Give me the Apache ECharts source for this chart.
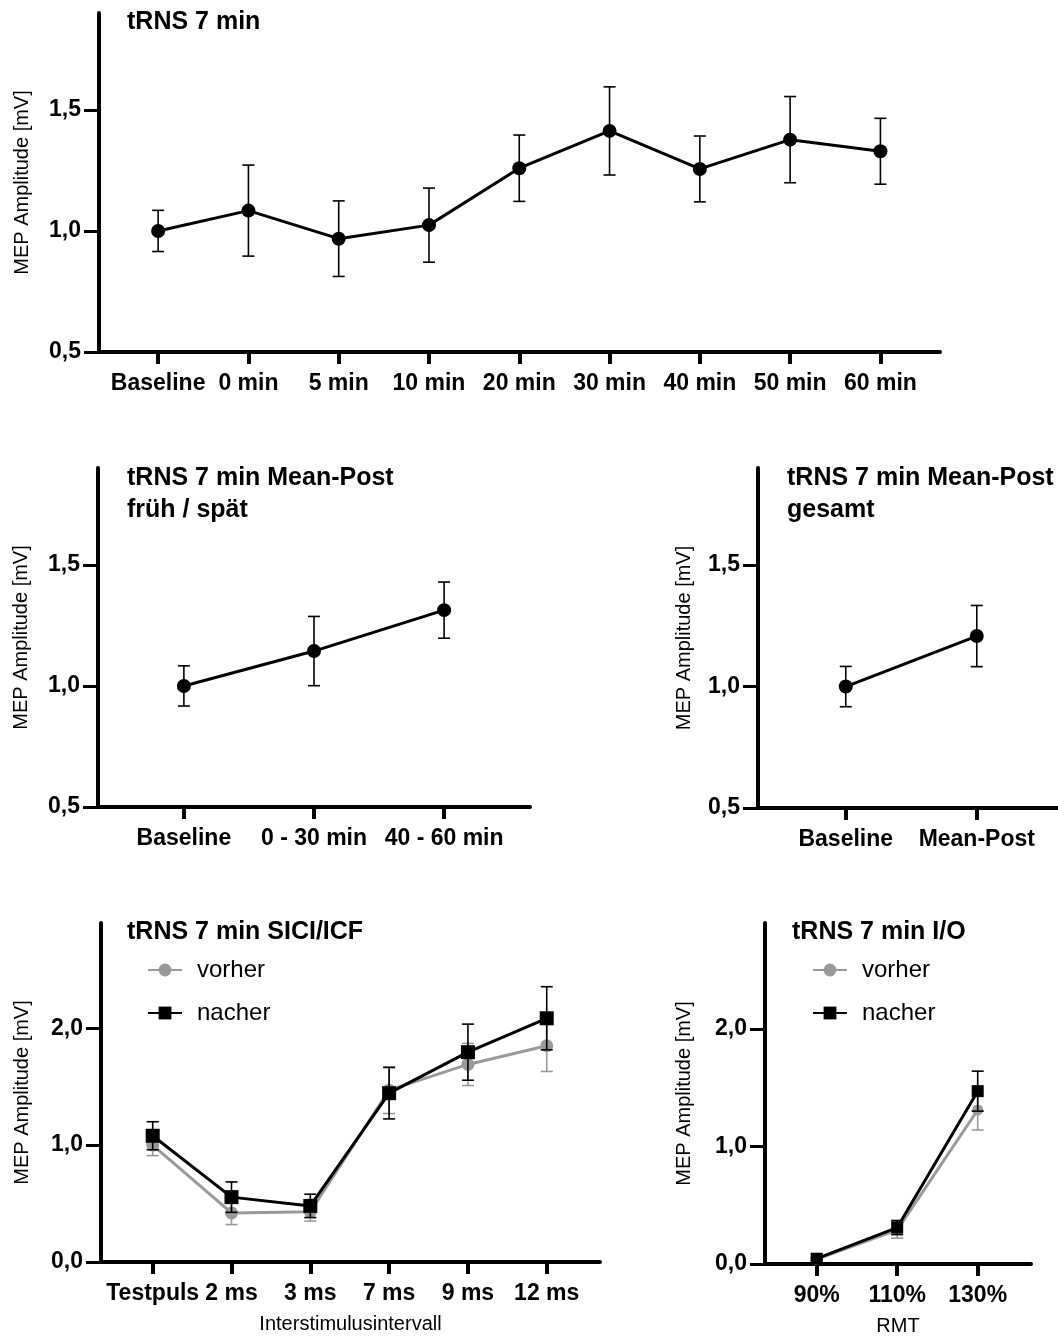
<!DOCTYPE html>
<html><head><meta charset="utf-8">
<script src="https://cdn.jsdelivr.net/npm/echarts@6/dist/echarts.min.js"></script>
<style>html,body{margin:0;padding:0;background:#fff}#c{width:1058px;height:1338px}</style>
</head><body><div id="c"></div>
<script>
// ---- data ----
const p1Cats = ['Baseline','0 min','5 min','10 min','20 min','30 min','40 min','50 min','60 min'];
const p1Mean = [1.00, 1.084, 0.968, 1.024, 1.259, 1.413, 1.256, 1.377, 1.329];
const p1Sem  = [0.085, 0.188, 0.156, 0.153, 0.137, 0.182, 0.136, 0.178, 0.136];

const p2Cats = ['Baseline','0 - 30 min','40 - 60 min'];
const p2Mean = [1.00, 1.144, 1.313];
const p2Sem  = [0.083, 0.143, 0.116];

const p3Cats = ['Baseline','Mean-Post'];
const p3Mean = [1.00, 1.208];
const p3Sem  = [0.083, 0.126];

const p4Cats = ['Testpuls','2 ms','3 ms','7 ms','9 ms','12 ms'];
const p4Vor     = [1.00, 0.42, 0.43, 1.47, 1.69, 1.85];
const p4VorSem  = [0.09, 0.10, 0.08, 0.20, 0.18, 0.22];
const p4Nach    = [1.08, 0.555, 0.48, 1.444, 1.795, 2.085];
const p4NachSem = [0.12, 0.13, 0.10, 0.22, 0.24, 0.27];

const p5Cats = ['90%','110%','130%'];
const p5Vor     = [0.04, 0.29, 1.31];
const p5VorSem  = [0.01, 0.07, 0.17];
const p5Nach    = [0.045, 0.31, 1.47];
const p5NachSem = [0.01, 0.06, 0.17];

const ticksA = [0.5, 1.0, 1.5];
const ticksB = [0, 1, 2];

const titles = ['tRNS 7 min', 'tRNS 7 min Mean-Post\nfrüh / spät', 'tRNS 7 min Mean-Post\ngesamt', 'tRNS 7 min SICI/ICF', 'tRNS 7 min I/O'];
const yName = 'MEP Amplitude [mV]';
const seriesNames = ['vorher', 'nacher'];

// ---- helpers ----
const FONT = '"Liberation Sans", Arial, Helvetica, sans-serif';
const GRAY = '#999999';
const fmt = v => v.toFixed(1).replace('.', ',');
const pts = arr => arr.map((v, i) => [i, v]);
const errs = (m, s) => m.map((v, i) => [i, v - s[i], v + s[i]]);

function errRender(color, capHalf, lw) {
  return function (params, api) {
    const x = api.value(0), lo = api.value(1), hi = api.value(2);
    const a = api.coord([x, lo]), b = api.coord([x, hi]);
    const st = { stroke: color, lineWidth: lw };
    return { type: 'group', children: [
      { type: 'line', shape: { x1: a[0], y1: a[1], x2: b[0], y2: b[1] }, style: st },
      { type: 'line', shape: { x1: b[0] - capHalf, y1: b[1], x2: b[0] + capHalf, y2: b[1] }, style: st },
      { type: 'line', shape: { x1: a[0] - capHalf, y1: a[1], x2: a[0] + capHalf, y2: a[1] }, style: st }
    ]};
  };
}

const grids = [
  { left: 99, top: 13, width: 841, height: 339 },
  { left: 98, top: 468, width: 432, height: 339 },
  { left: 758, top: 468, width: 300, height: 340 },
  { left: 101, top: 923, width: 499, height: 339 },
  { left: 765, top: 923, width: 266, height: 341 }
];

const xCfg = [
  { cats: p1Cats, min: -0.655, max: 8.66, name: '' },
  { cats: p2Cats, min: -0.66, max: 2.66, name: '' },
  { cats: p3Cats, min: -0.67, max: 1.62, name: '' },
  { cats: p4Cats, min: -0.656, max: 5.676, name: 'Interstimulusintervall' },
  { cats: p5Cats, min: -0.642, max: 2.662, name: 'RMT' }
];
const yCfg = [
  { min: 0.5, max: 1.9, ticks: ticksA, gap: 67 },
  { min: 0.5, max: 1.9, ticks: ticksA, gap: 67 },
  { min: 0.5, max: 1.9, ticks: ticksA, gap: 64 },
  { min: 0, max: 2.9, ticks: ticksB, gap: 69 },
  { min: 0, max: 2.9, ticks: ticksB, gap: 71 }
];

const xAxis = xCfg.map((c, i) => {
  const idx = c.cats.map((_, k) => k);
  return {
    type: 'value', gridIndex: i, min: c.min, max: c.max,
    axisLine: { show: true, onZero: false, lineStyle: { color: '#000', width: 4 } },
    axisTick: { show: true, length: 12, lineStyle: { color: '#000', width: 4 }, customValues: idx },
    axisLabel: { customValues: idx, margin: 20, color: '#000', fontSize: 23, fontWeight: 'bold', fontFamily: FONT,
      formatter: v => c.cats[Math.round(v)] },
    splitLine: { show: false },
    name: c.name, nameLocation: 'middle', nameGap: 52,
    nameTextStyle: { color: '#000', fontSize: 20, fontFamily: FONT }
  };
});

const yAxis = yCfg.map((c, i) => ({
  type: 'value', gridIndex: i, min: c.min, max: c.max,
  axisLine: { show: true, onZero: false, lineStyle: { color: '#000', width: 4 } },
  axisTick: { show: true, length: 15, lineStyle: { color: '#000', width: 3 }, customValues: c.ticks },
  axisLabel: { customValues: c.ticks, margin: 18, color: '#000', fontSize: 23, fontWeight: 'bold', fontFamily: FONT,
    formatter: v => fmt(v) },
  splitLine: { show: false },
  name: yName, nameLocation: 'middle', nameGap: c.gap, nameRotate: 90,
  nameTextStyle: { color: '#000', fontSize: 20, fontFamily: FONT }
}));

const series = [];
function addSingle(gi, mean, sem) {
  series.push({ type: 'custom', xAxisIndex: gi, yAxisIndex: gi, renderItem: errRender('#000', 6, 1.6),
    encode: { x: 0, y: [1, 2] }, data: errs(mean, sem), z: 2, silent: true });
  series.push({ type: 'line', xAxisIndex: gi, yAxisIndex: gi, data: pts(mean), symbol: 'circle', symbolSize: 14,
    lineStyle: { color: '#000', width: 3 }, itemStyle: { color: '#000' }, z: 3, silent: true });
}
addSingle(0, p1Mean, p1Sem);
addSingle(1, p2Mean, p2Sem);
addSingle(2, p3Mean, p3Sem);

function addPair(gi, vor, vorSem, nach, nachSem, sz) {
  series.push({ type: 'custom', xAxisIndex: gi, yAxisIndex: gi, renderItem: errRender(GRAY, 6, 1.6),
    encode: { x: 0, y: [1, 2] }, data: errs(vor, vorSem), z: 2, silent: true });
  series.push({ name: seriesNames[0], type: 'line', xAxisIndex: gi, yAxisIndex: gi, data: pts(vor), symbol: 'circle', symbolSize: sz - 1,
    lineStyle: { color: GRAY, width: 3 }, itemStyle: { color: GRAY }, z: 3, silent: true });
  series.push({ type: 'custom', xAxisIndex: gi, yAxisIndex: gi, renderItem: errRender('#000', 6, 1.6),
    encode: { x: 0, y: [1, 2] }, data: errs(nach, nachSem), z: 4, silent: true });
  series.push({ name: seriesNames[1], type: 'line', xAxisIndex: gi, yAxisIndex: gi, data: pts(nach), symbol: 'rect', symbolSize: sz,
    lineStyle: { color: '#000', width: 3 }, itemStyle: { color: '#000' }, z: 5, silent: true });
}
addPair(3, p4Vor, p4VorSem, p4Nach, p4NachSem, 14);
addPair(4, p5Vor, p5VorSem, p5Nach, p5NachSem, 12);

const titlePos = [[127, 6], [127, 462], [787, 462], [127, 916], [792, 916]];
const title = titles.map((t, i) => ({
  text: t, left: titlePos[i][0], top: titlePos[i][1], padding: 0,
  textStyle: { fontSize: 25, fontWeight: 'bold', color: '#000', fontFamily: FONT, lineHeight: 32 }
}));

const legendPos = [[147, 958], [812, 958]];
const legend = legendPos.map(p => ({
  orient: 'vertical', left: p[0], top: p[1], padding: 0, itemGap: 19, itemWidth: 34, itemHeight: 16,
  data: seriesNames, selectedMode: false,
  textStyle: { fontSize: 24, color: '#000', fontFamily: FONT, padding: [0, 0, 0, 10] }
}));

const chart = echarts.init(document.getElementById('c'), null, { renderer: 'canvas' });
chart.setOption({
  animation: false,
  backgroundColor: '#fff',
  title, legend, grid: grids, xAxis, yAxis, series
});
</script></body></html>
